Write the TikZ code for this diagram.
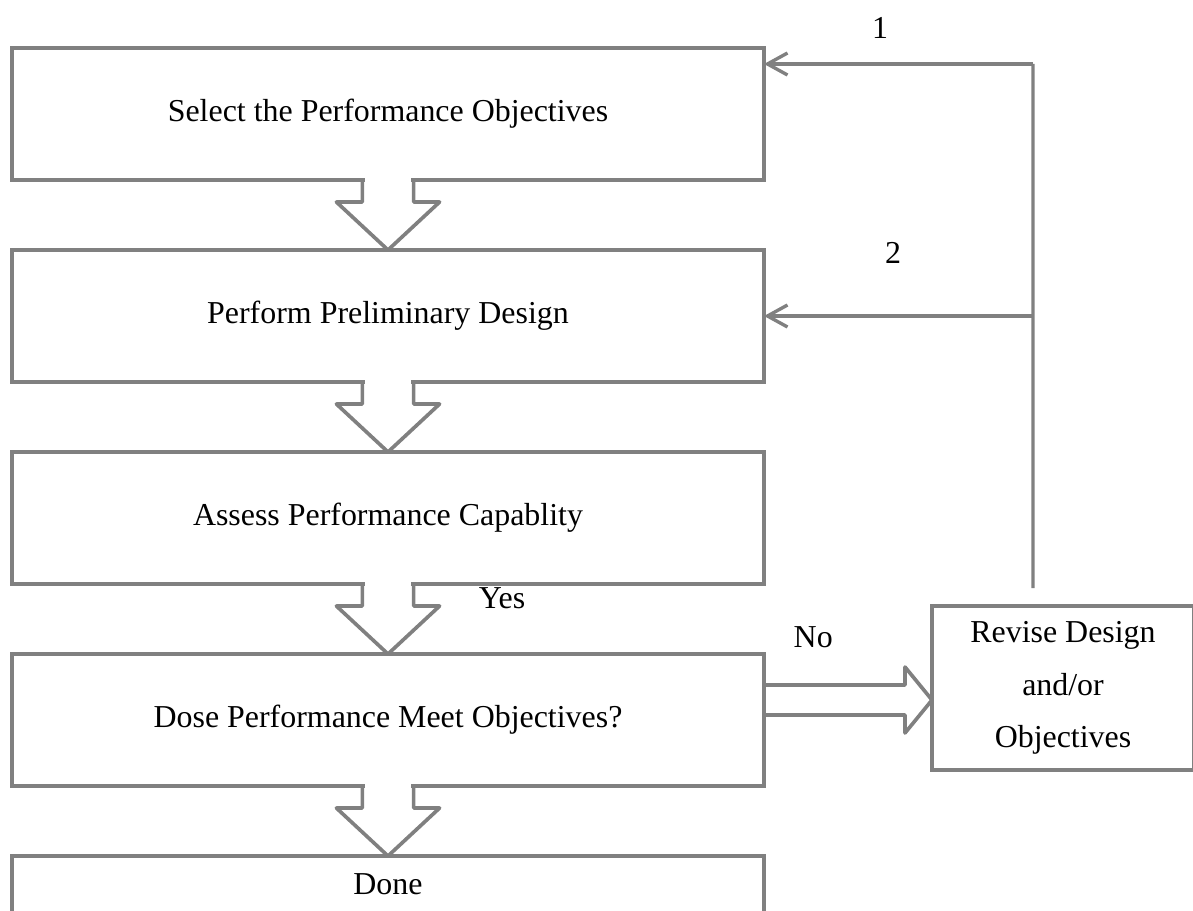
\documentclass[tikz,border=0pt]{standalone}
\usepackage{fontspec}
\setmainfont{Liberation Serif}
\usetikzlibrary{
  positioning,
  arrows.meta,
  calc
}
\definecolor{lineGray}{HTML}{808080}
\tikzset{
  stepBox/.style={
    draw=lineGray, line width=2.6pt, minimum width=18.8cm,
    minimum height=3.3cm, inner sep=0pt, outer sep=0pt,
    font={\fontsize{22.7}{37.5}\selectfont}
  },
  reviseBox/.style={
    stepBox, minimum width=6.55cm, minimum height=4.1cm, align=center
  },
  blockArrow/.style={
    draw=lineGray, line width=2.6pt, line join=round
  },
  feedLine/.style={
    draw=lineGray, line width=2.4pt
  },
  feedArrow/.style={
    feedLine, -{Straight Barb[length=5mm, width=5.5mm]}
  },
  tagText/.style={
    inner sep=0pt, font={\fontsize{22.7}{37.5}\selectfont}
  }
}

\begin{document}
\begin{tikzpicture}
\useasboundingbox (0,0) rectangle (29.825,-22.75);

% ── MAIN STEPS ─────────────────────────────────────────────────────
\node[stepBox] (S1) at (9.7,-2.85) {Select the Performance Objectives};
\node[stepBox, below=1.75cm of S1] (S2) {Perform Preliminary Design};
\node[stepBox, below=1.75cm of S2] (S3) {Assess Performance Capablity};
\node[stepBox, below=1.75cm of S3] (S4) {Dose Performance Meet Objectives?};
\node[stepBox, below=1.75cm of S4, minimum height=1.42cm] (S5) {Done};

% ── REVISION ───────────────────────────────────────────────────────
\node[reviseBox] (R) at (26.575,-17.2) {Revise Design\\and/or\\Objectives};

% ── BLOCK ARROWS DOWN ──────────────────────────────────────────────
\fill[white] ($(S1.south)+(-0.58,0.1)$) rectangle ($(S1.south)+(0.58,-0.1)$);
\draw[blockArrow] ($(S1.south)+(-0.64,0)$) -- ++(0,-0.55) -- ++(-0.65,0)
  -- (S2.north) -- ++(1.29,1.2) -- ++(-0.65,0) -- ++(0,0.55);

\fill[white] ($(S2.south)+(-0.58,0.1)$) rectangle ($(S2.south)+(0.58,-0.1)$);
\draw[blockArrow] ($(S2.south)+(-0.64,0)$) -- ++(0,-0.55) -- ++(-0.65,0)
  -- (S3.north) -- ++(1.29,1.2) -- ++(-0.65,0) -- ++(0,0.55);

\fill[white] ($(S3.south)+(-0.58,0.1)$) rectangle ($(S3.south)+(0.58,-0.1)$);
\draw[blockArrow] ($(S3.south)+(-0.64,0)$) -- ++(0,-0.55) -- ++(-0.65,0)
  -- (S4.north) -- ++(1.29,1.2) -- ++(-0.65,0) -- ++(0,0.55);

\fill[white] ($(S4.south)+(-0.58,0.1)$) rectangle ($(S4.south)+(0.58,-0.1)$);
\draw[blockArrow] ($(S4.south)+(-0.64,0)$) -- ++(0,-0.55) -- ++(-0.65,0)
  -- (S5.north) -- ++(1.29,1.2) -- ++(-0.65,0) -- ++(0,0.55);

% ── BLOCK ARROW TO REVISION ────────────────────────────────────────
\draw[blockArrow] ($(S4.east)+(0,0.875)$) -- ++(3.525,0) -- ++(0,0.45)
  -- ($(R.west)+(0,-0.3)$) -- ($(S4.east)+(3.525,-0.325)$) -- ++(0,0.45)
  -- ($(S4.east)+(0,0.125)$);

% ── FEEDBACK ───────────────────────────────────────────────────────
\coordinate (fbBot) at ($(R.north west)+(2.525,0.45)$);
\coordinate (fbTop) at ($(S1.north east)+(6.725,-0.4)$);
\draw[feedLine] (fbBot) -- (fbTop);
\draw[feedArrow] (fbTop) -- (S1.east |- fbTop);
\draw[feedArrow] (fbBot |- S2.east) -- (S2.east);

% ── LABELS ─────────────────────────────────────────────────────────
\node[tagText] (L1) at ($(S1.north east)+(2.9,0.5)$) {1};
\node[tagText] (L2) at ($(S2.north east)+(3.23,-0.08)$) {2};
\node[tagText] (LY) at ($(S3.south)+(2.85,-0.35)$) {Yes};
\node[tagText] (LN) at ($(S4.north east)+(1.23,0.42)$) {No};

\end{tikzpicture}
\end{document}
